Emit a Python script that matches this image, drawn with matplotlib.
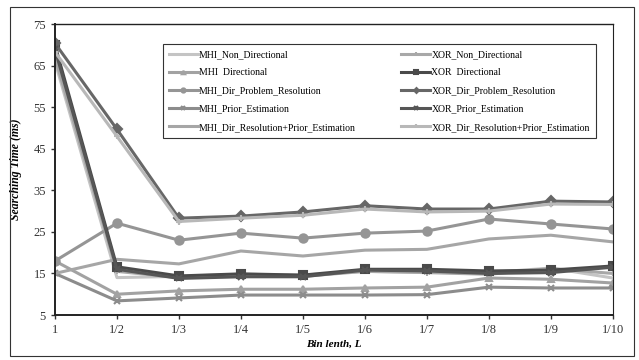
import matplotlib.pyplot as plt
from matplotlib.patches import Rectangle

# ─── DATA ────────────────────────────────────────────────
bins = ["1", "1/2", "1/3", "1/4", "1/5", "1/6", "1/7", "1/8", "1/9", "1/10"]

mhi_non_dir = [66.0, 14.0, 14.3, 14.8, 14.6, 15.5, 15.3, 15.2, 16.3, 13.9]
mhi_dir = [18.0, 10.0, 10.8, 11.2, 11.2, 11.5, 11.7, 13.9, 13.6, 12.7]
mhi_dir_prob = [18.0, 27.1, 23.0, 24.7, 23.5, 24.7, 25.2, 28.1, 26.9, 25.7]
mhi_prior = [15.0, 8.4, 9.1, 9.8, 9.8, 9.8, 9.9, 11.7, 11.5, 11.5]
mhi_dir_res_prior = [15.0, 18.4, 17.3, 20.4, 19.2, 20.6, 20.8, 23.3, 24.2, 22.6]

xor_non_dir = [67.0, 15.5, 14.0, 14.5, 14.3, 15.5, 15.2, 14.8, 16.2, 15.0]
xor_dir = [70.0, 16.6, 14.4, 14.9, 14.6, 16.0, 16.0, 15.6, 15.8, 16.8]
xor_dir_prob = [70.4, 49.7, 28.3, 28.8, 29.8, 31.3, 30.5, 30.5, 32.4, 32.2]
xor_prior = [69.0, 16.0, 13.8, 14.2, 14.2, 15.8, 15.6, 15.0, 15.2, 16.5]
xor_dir_res_prior = [68.3, 48.0, 27.5, 28.3, 29.0, 30.5, 29.8, 30.0, 31.7, 31.6]

series = [
    ("MHI_Non_Directional", mhi_non_dir, "#c4c4c4", None),
    ("MHI  Directional", mhi_dir, "#a2a2a2", "^"),
    ("MHI_Dir_Problem_Resolution", mhi_dir_prob, "#959595", "o"),
    ("MHI_Prior_Estimation", mhi_prior, "#8c8c8c", "x"),
    ("MHI_Dir_Resolution+Prior_Estimation", mhi_dir_res_prior, "#a6a6a6", None),
    ("XOR_Non_Directional", xor_non_dir, "#a8a8a8", "|"),
    ("XOR  Directional", xor_dir, "#4a4a4a", "s"),
    ("XOR_Dir_Problem_Resolution", xor_dir_prob, "#676767", "D"),
    ("XOR_Prior_Estimation", xor_prior, "#565656", "x"),
    ("XOR_Dir_Resolution+Prior_Estimation", xor_dir_res_prior, "#b8b8b8", "+"),
]

plt.rcParams["font.family"] = ["Liberation Serif", "DejaVu Serif"]

fig = plt.figure(figsize=(6.39, 3.6), dpi=100)
ax = fig.add_axes([0.086, 0.125, 0.873, 0.808])

x = range(len(bins))
for name, vals, color, marker in series:
    ms = 6 if marker in ("o", "s") else 5
    ax.plot(x, vals, color=color, lw=2.2, marker=marker, ms=ms,
            mew=1.5, label=name)

ax.set_xlim(0, len(bins) - 1)
ax.set_ylim(5, 75)
ax.set_yticks(range(5, 76, 10))
ax.set_xticks(list(x))
ax.set_xticklabels(bins)
ax.tick_params(labelsize=9, length=3, width=1, colors="#333333")
for s in ax.spines.values():
    s.set_color("#222222")
ax.spines["left"].set_linewidth(1.4)
ax.spines["bottom"].set_linewidth(1.4)
ax.spines["top"].set_linewidth(1.0)
ax.spines["right"].set_linewidth(0.8)

ax.set_ylabel("Searching Time (ms)", fontsize=8.5, fontweight="bold",
              fontstyle="italic", labelpad=8)
ax.set_xlabel("Bin lenth, L", fontsize=8, fontweight="bold",
              fontstyle="italic", labelpad=3)

leg = ax.legend(ncol=2, loc="upper left", bbox_to_anchor=(0.185, 0.612, 0.793, 0.336),
                mode="expand", fontsize=7, handlelength=3.0, labelspacing=0.95,
                handletextpad=0.1, borderpad=0.6, fancybox=False, framealpha=1,
                edgecolor="#333333", markerscale=0.5)
leg.get_frame().set_linewidth(0.8)

# outer chart border
fig.patches.append(Rectangle((10 / 639, 4 / 360), 624 / 639, 349 / 360,
                             transform=fig.transFigure, fill=False,
                             edgecolor="#333333", lw=0.8))

plt.savefig("out.png", dpi=100)
